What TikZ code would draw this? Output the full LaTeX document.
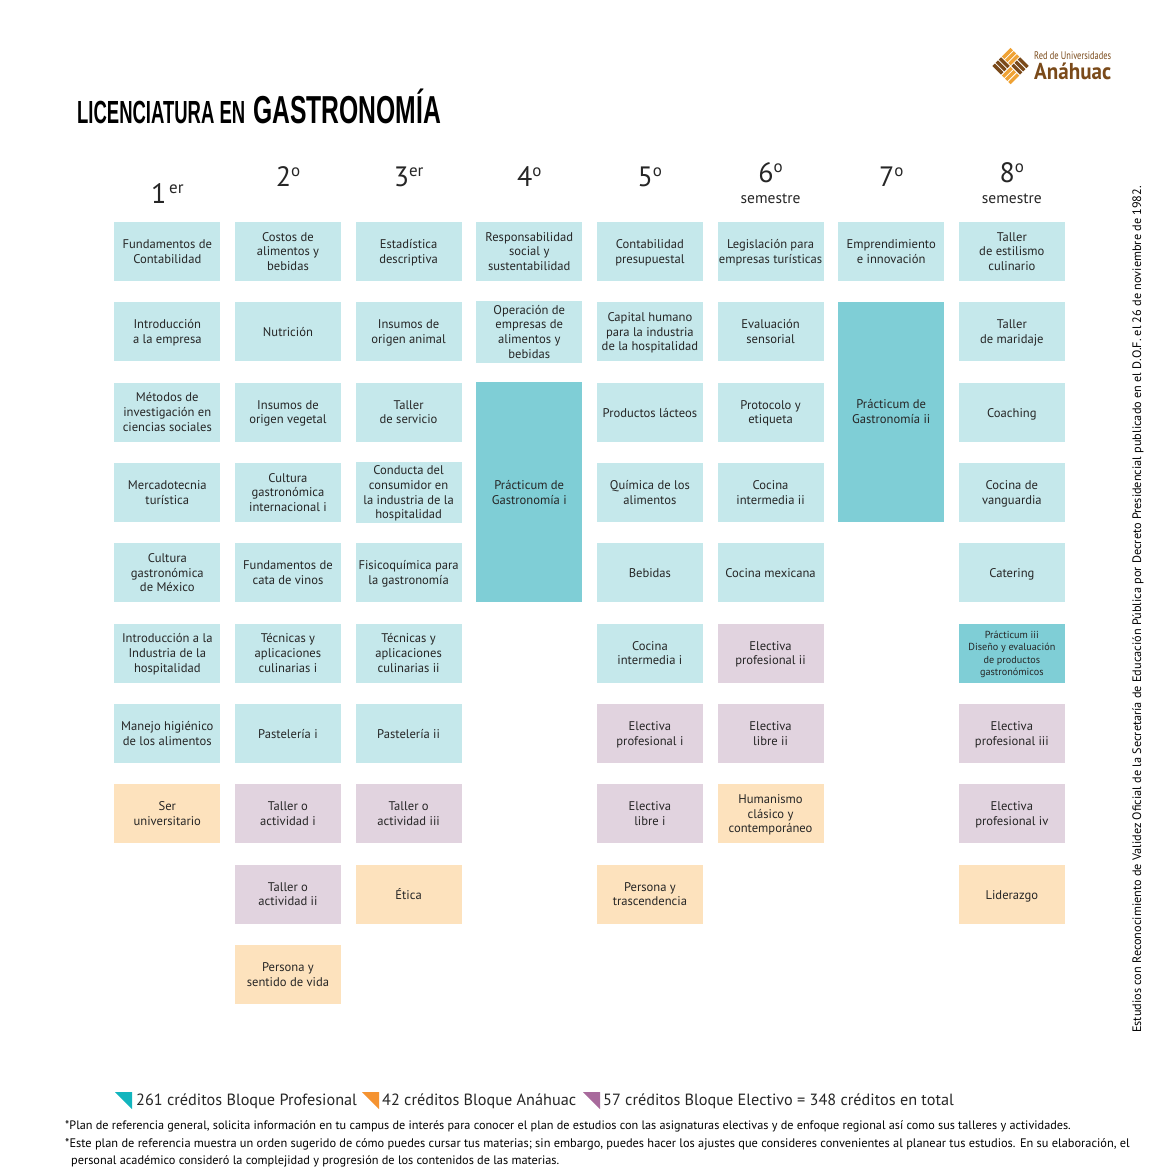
\documentclass[tikz,border=0pt]{standalone}
\usepackage{fontspec}
\setmainfont{PT Sans}
\newfontfamily\titulofont{Liberation Sans}
\usepackage{tikz}
\definecolor{azulclaro}{HTML}{C5E8EB}
\definecolor{azuloscuro}{HTML}{7FCED6}
\definecolor{durazno}{HTML}{FDE2BD}
\definecolor{malva}{HTML}{E1D3DF}
\definecolor{tinta}{HTML}{262626}
\definecolor{cafelogo}{HTML}{7A4A1A}
\definecolor{naranjalogo}{HTML}{EFA234}
\definecolor{triazul}{HTML}{12B5BE}
\definecolor{trinaranja}{HTML}{F59331}
\definecolor{trimalva}{HTML}{A86A9C}
\newcommand{\semnum}[2]{\fontsize{28}{28}\selectfont #1\raisebox{9.5pt}{\fontsize{17}{17}\selectfont #2}}
\newcommand{\abrecaja}{\setbox0=\hbox\bgroup}
\newcommand{\cierracaja}{\strut\egroup\ht0=\dimexpr\ht0+4pt\relax\box0 }
\tikzstyle{materia} = [rectangle, minimum width=106pt, minimum height=59pt, inner sep=0pt, align=center, text=tinta, font=\fontsize{12.6}{14.7}\selectfont, execute at begin node=\abrecaja, execute at end node=\cierracaja, fill=azulclaro]
\tikzstyle{materia_electiva} = [materia, fill=malva]
\tikzstyle{materia_anahuac} = [materia, fill=durazno]
\tikzstyle{practicum} = [materia, minimum height=220pt, fill=azuloscuro]
\tikzstyle{practicum_chico} = [materia, fill=azuloscuro, font=\fontsize{10.2}{12.6}\selectfont]
\tikzstyle{encabezado} = [text=tinta, inner sep=0pt]
\tikzstyle{semestre} = [text=tinta, inner sep=0pt, font=\fontsize{15.5}{18}\selectfont]
\tikzstyle{leyenda} = [anchor=base west, inner sep=0pt, text=tinta, font=\fontsize{16.25}{20}\selectfont]
\tikzstyle{nota} = [anchor=base west, inner sep=0pt, text=black, font=\fontsize{12.3}{15}\selectfont]
\begin{document}
\begin{tikzpicture}[x=1pt, y=-1pt, node distance=80.35pt]
		\useasboundingbox (0,0) rectangle (1170,1170);

		\node (titulo) [anchor=base west, inner sep=0pt, text=black] at (77,123) {\resizebox{168pt}{\height}{\titulofont\bfseries\fontsize{32}{32}\selectfont LICENCIATURA EN}};
		\node (carrera) [anchor=base west, inner sep=0pt, text=black] at (253,123) {\resizebox{188pt}{\height}{\titulofont\bfseries\fontsize{39}{39}\selectfont GASTRONOMÍA}};

		\node (c1a) [materia] at (167.3,251.5) {Fundamentos de\\Contabilidad};
		\node (c1b) [materia, below of=c1a] {Introducción\\a la empresa};
		\node (c1c) [materia, below of=c1b] {Métodos de\\investigación en\\ciencias sociales};
		\node (c1d) [materia, below of=c1c] {Mercadotecnia\\turística};
		\node (c1e) [materia, below of=c1d] {Cultura\\gastronómica\\de México};
		\node (c1f) [materia, below of=c1e] {Introducción a la\\Industria de la\\hospitalidad};
		\node (c1g) [materia, below of=c1f] {Manejo higiénico\\de los alimentos};
		\node (c1h) [materia_anahuac, below of=c1g] {Ser\\universitario};

		\node (c2a) [materia, right of=c1a, node distance=120.65pt] {Costos de\\alimentos y\\bebidas};
		\node (c2b) [materia, below of=c2a] {Nutrición};
		\node (c2c) [materia, below of=c2b] {Insumos de\\origen vegetal};
		\node (c2d) [materia, below of=c2c] {Cultura\\gastronómica\\internacional i};
		\node (c2e) [materia, below of=c2d] {Fundamentos de\\cata de vinos};
		\node (c2f) [materia, below of=c2e] {Técnicas y\\aplicaciones\\culinarias i};
		\node (c2g) [materia, below of=c2f] {Pastelería i};
		\node (c2h) [materia_electiva, below of=c2g] {Taller o\\actividad i};
		\node (c2i) [materia_electiva, below of=c2h] {Taller o\\actividad ii};
		\node (c2j) [materia_anahuac, below of=c2i] {Persona y\\sentido de vida};

		\node (c3a) [materia, right of=c2a, node distance=120.65pt] {Estadística\\descriptiva};
		\node (c3b) [materia, below of=c3a] {Insumos de\\origen animal};
		\node (c3c) [materia, below of=c3b] {Taller\\de servicio};
		\node (c3d) [materia, below of=c3c] {Conducta del\\consumidor en\\la industria de la\\hospitalidad};
		\node (c3e) [materia, below of=c3d] {Fisicoquímica para\\la gastronomía};
		\node (c3f) [materia, below of=c3e] {Técnicas y\\aplicaciones\\culinarias ii};
		\node (c3g) [materia, below of=c3f] {Pastelería ii};
		\node (c3h) [materia_electiva, below of=c3g] {Taller o\\actividad iii};
		\node (c3i) [materia_anahuac, below of=c3h] {Ética};

		\node (c4a) [materia, right of=c3a, node distance=120.65pt] {Responsabilidad\\social y\\sustentabilidad};
		\node (c4b) [materia, below of=c4a] {Operación de\\empresas de\\alimentos y\\bebidas};
		\node (c4c) [practicum, below of=c4b, node distance=160.5pt] {Prácticum de\\Gastronomía i};

		\node (c5a) [materia, right of=c4a, node distance=120.65pt] {Contabilidad\\presupuestal};
		\node (c5b) [materia, below of=c5a] {Capital humano\\para la industria\\de la hospitalidad};
		\node (c5c) [materia, below of=c5b] {Productos lácteos};
		\node (c5d) [materia, below of=c5c] {Química de los\\alimentos};
		\node (c5e) [materia, below of=c5d] {Bebidas};
		\node (c5f) [materia, below of=c5e] {Cocina\\intermedia i};
		\node (c5g) [materia_electiva, below of=c5f] {Electiva\\profesional i};
		\node (c5h) [materia_electiva, below of=c5g] {Electiva\\libre i};
		\node (c5i) [materia_anahuac, below of=c5h] {Persona y\\trascendencia};

		\node (c6a) [materia, right of=c5a, node distance=120.65pt] {Legislación para\\empresas turísticas};
		\node (c6b) [materia, below of=c6a] {Evaluación\\sensorial};
		\node (c6c) [materia, below of=c6b] {Protocolo y\\etiqueta};
		\node (c6d) [materia, below of=c6c] {Cocina\\intermedia ii};
		\node (c6e) [materia, below of=c6d] {Cocina mexicana};
		\node (c6f) [materia_electiva, below of=c6e] {Electiva\\profesional ii};
		\node (c6g) [materia_electiva, below of=c6f] {Electiva\\libre ii};
		\node (c6h) [materia_anahuac, below of=c6g] {Humanismo\\clásico y\\contemporáneo};

		\node (c7a) [materia, right of=c6a, node distance=120.65pt] {Emprendimiento\\e innovación};
		\node (c7b) [practicum, below of=c7a, node distance=160.5pt] {Prácticum de\\Gastronomía ii};

		\node (c8a) [materia, right of=c7a, node distance=120.65pt] {Taller\\de estilismo\\culinario};
		\node (c8b) [materia, below of=c8a] {Taller\\de maridaje};
		\node (c8c) [materia, below of=c8b] {Coaching};
		\node (c8d) [materia, below of=c8c] {Cocina de\\vanguardia};
		\node (c8e) [materia, below of=c8d] {Catering};
		\node (c8f) [practicum_chico, below of=c8e] {Prácticum iii\\Diseño y evaluación\\de productos\\gastronómicos};
		\node (c8g) [materia_electiva, below of=c8f] {Electiva\\profesional iii};
		\node (c8h) [materia_electiva, below of=c8g] {Electiva\\profesional iv};
		\node (c8i) [materia_anahuac, below of=c8h] {Liderazgo};

		\node (s1) [encabezado, above of=c1a, node distance=58pt] {\semnum{1}{\,er}};
		\node (s2) [encabezado, above of=c2a, node distance=75pt] {\semnum{2}{o}};
		\node (s3) [encabezado, above of=c3a, node distance=75pt] {\semnum{3}{er}};
		\node (s4) [encabezado, above of=c4a, node distance=75pt] {\semnum{4}{o}};
		\node (s5) [encabezado, above of=c5a, node distance=75pt] {\semnum{5}{o}};
		\node (s6) [encabezado, above of=c6a, node distance=79pt] {\semnum{6}{o}};
		\node (s7) [encabezado, above of=c7a, node distance=75pt] {\semnum{7}{o}};
		\node (s8) [encabezado, above of=c8a, node distance=79pt] {\semnum{8}{o}};
		\node (s6t) [semestre, above of=c6a, node distance=53pt] {semestre};
		\node (s8t) [semestre, above of=c8a, node distance=53pt] {semestre};

		\node (decreto) [rotate=90, anchor=west, inner sep=0pt, text=black, font=\fontsize{12.26}{14}\selectfont] at (1138,1033) {Estudios con Reconocimiento de Validez Oficial de la Secretaría de Educación Pública por Decreto Presidencial publicado en el D.O.F. el 26 de noviembre de 1982.};

		\fill [triazul] (115,1092) -- (132,1092) -- (132,1109) -- cycle;
		\fill [trinaranja] (362,1092) -- (379,1092) -- (379,1109) -- cycle;
		\fill [trimalva] (583,1092) -- (600,1092) -- (600,1109) -- cycle;
		\node (ley1) [leyenda] at (136,1105) {261 créditos Bloque Profesional};
		\node (ley2) [leyenda] at (382,1105) {42 créditos Bloque Anáhuac};
		\node (ley3) [leyenda] at (603,1105) {57 créditos Bloque Electivo = 348 créditos en total};

		\node (nota1) [nota, font=\fontsize{12.22}{15}\selectfont] at (65,1129) {*Plan de referencia general, solicita información en tu campus de interés para conocer el plan de estudios con las asignaturas electivas y de enfoque regional así como sus talleres y actividades.};
		\node (nota2) [nota, font=\fontsize{12.37}{15}\selectfont] at (65,1147) {*Este plan de referencia muestra un orden sugerido de cómo puedes cursar tus materias; sin embargo, puedes hacer los ajustes que consideres convenientes al planear tus estudios. En su elaboración, el};
		\node (nota3) [nota] at (71,1164) {personal académico consideró la complejidad y progresión de los contenidos de las materias.};

		\begin{scope}[shift={(1010.5,66)}, rotate=45, scale=0.75]
			\foreach \i in {0,1,2} {
				\fill [cafelogo] (-17+\i*6,-17) rectangle (-12.5+\i*6,-0.8);
				\fill [cafelogo] (0.8+\i*6,0.8) rectangle (5.3+\i*6,17);
				\fill [naranjalogo] (0.8,-17+\i*6) rectangle (17,-12.5+\i*6);
				\fill [naranjalogo] (-17,0.8+\i*6) rectangle (-0.8,5.3+\i*6);
			}
		\end{scope}
		\node (logored) [anchor=base west, inner sep=0pt, text=cafelogo] at (1034,59.5) {\resizebox{77pt}{\height}{\fontsize{11}{11}\selectfont Red de Universidades}};
		\node (logoanahuac) [anchor=base west, inner sep=0pt, text=cafelogo] at (1034,79.5) {\resizebox{77pt}{\height}{\bfseries\fontsize{23}{23}\selectfont Anáhuac}};
\end{tikzpicture}
\end{document}
